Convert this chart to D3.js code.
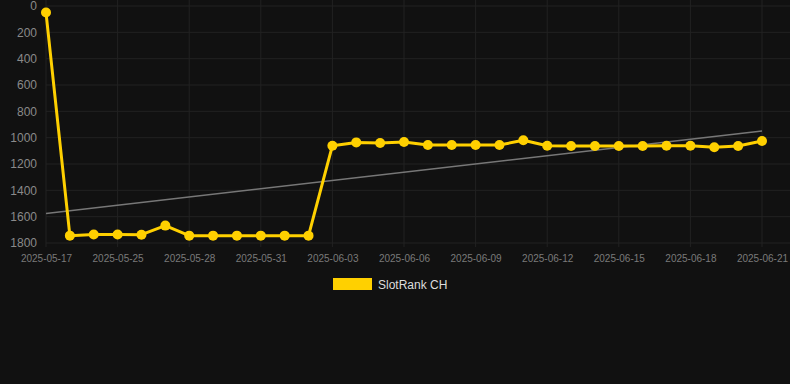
<!DOCTYPE html>
<html>
<head>
<meta charset="utf-8">
<script src="https://cdn.jsdelivr.net/npm/d3@7"></script>
<style>
  body { margin: 0; background: #111111; }
  svg { display: block; font-family: Arial, "Liberation Sans", sans-serif; }
</style>
</head>
<body>
<div id="chart"></div>
<script>
// categories (dates on the x axis)
const dates = [
    "2025-05-17", "2025-05-23", "2025-05-24", "2025-05-25", "2025-05-26", "2025-05-27",
    "2025-05-28", "2025-05-29", "2025-05-30", "2025-05-31", "2025-06-01", "2025-06-02",
    "2025-06-03", "2025-06-04", "2025-06-05", "2025-06-06", "2025-06-07", "2025-06-08",
    "2025-06-09", "2025-06-10", "2025-06-11", "2025-06-12", "2025-06-13", "2025-06-14",
    "2025-06-15", "2025-06-16", "2025-06-17", "2025-06-18", "2025-06-19", "2025-06-20",
    "2025-06-21"
];

// rank values
const ranks = [
    50, 1744, 1736, 1736, 1737, 1668,
    1744, 1744, 1744, 1744, 1744, 1744,
    1061, 1036, 1041, 1033, 1056, 1056,
    1056, 1056, 1020, 1061, 1063, 1063,
    1063, 1063, 1061, 1061, 1073, 1063,
    1025
];

const yTicks = [0, 200, 400, 600, 800, 1000, 1200, 1400, 1600, 1800];
const xTickLabels = ["2025-05-17", "2025-05-25", "2025-05-28", "2025-05-31", "2025-06-03",
    "2025-06-06", "2025-06-09", "2025-06-12", "2025-06-15", "2025-06-18", "2025-06-21"];
const seriesName = "SlotRank CH";

const width = 790, height = 384;
const margin = { top: 6, right: 28, bottom: 141, left: 46 };

const svg = d3.select("#chart").append("svg")
    .attr("width", width)
    .attr("height", height);

svg.append("rect").attr("width", width).attr("height", height).attr("fill", "#111111");

// x scale (category, points on ticks)
const x = d3.scalePoint()
    .domain(dates)
    .range([margin.left, width - margin.right]);

// y scale (inverted rank)
const y = d3.scaleLinear()
    .domain([0, 1800])
    .range([margin.top, height - margin.bottom]);

// grid lines
svg.append("g")
    .selectAll("line")
    .data(yTicks)
    .join("line")
    .attr("x1", margin.left)
    .attr("x2", width)
    .attr("y1", d => y(d))
    .attr("y2", d => y(d))
    .attr("stroke", "#222222")
    .attr("stroke-width", 1);

svg.append("g")
    .selectAll("line")
    .data(xTickLabels)
    .join("line")
    .attr("x1", d => x(d))
    .attr("x2", d => x(d))
    .attr("y1", 0)
    .attr("y2", y(1800) + 4)
    .attr("stroke", "#222222")
    .attr("stroke-width", 1);

// y axis labels
svg.append("g")
    .attr("transform", `translate(${margin.left - 9},0)`)
    .call(d3.axisLeft(y).tickValues(yTicks).tickFormat(d3.format("d")).tickSize(0).tickPadding(0))
    .call(g => g.select(".domain").remove())
    .call(g => g.selectAll("text")
        .attr("fill", "#8a8a8a")
        .style("font-size", "12px")
        .style("font-family", "Arial, 'Liberation Sans', sans-serif"));

// x axis labels
svg.append("g")
    .attr("transform", `translate(0,${y(1800)})`)
    .call(d3.axisBottom(x).tickValues(xTickLabels).tickSize(0).tickPadding(12))
    .call(g => g.select(".domain").remove())
    .call(g => g.selectAll("text")
        .attr("fill", "#7a7a7a")
        .style("font-size", "10px")
        .style("font-family", "Arial, 'Liberation Sans', sans-serif"));

// trend line (least squares over index)
const n = ranks.length;
const mx = d3.mean(ranks, (d, i) => i);
const my = d3.mean(ranks);
const slope = d3.sum(ranks, (d, i) => (i - mx) * (d - my)) / d3.sum(ranks, (d, i) => (i - mx) ** 2);
const intercept = my - slope * mx;

svg.append("line")
    .attr("x1", x(dates[0]))
    .attr("x2", x(dates[n - 1]))
    .attr("y1", y(intercept))
    .attr("y2", y(intercept + slope * (n - 1)))
    .attr("stroke", "#777")
    .attr("stroke-width", 1.5);

// series line
const line = d3.line()
    .x((d, i) => x(dates[i]))
    .y(d => y(d));

svg.append("path")
    .datum(ranks)
    .attr("fill", "none")
    .attr("stroke", "#FFD000")
    .attr("stroke-width", 3)
    .attr("stroke-linejoin", "round")
    .attr("d", line);

// dots
svg.append("g")
    .selectAll("circle")
    .data(ranks)
    .join("circle")
    .attr("cx", (d, i) => x(dates[i]))
    .attr("cy", d => y(d))
    .attr("r", 5)
    .attr("fill", "#FFD000");

// legend
const legend = svg.append("g").attr("transform", "translate(333,278)");
legend.append("rect")
    .attr("width", 39)
    .attr("height", 12)
    .attr("fill", "#FFD000");
legend.append("text")
    .attr("x", 45)
    .attr("y", 10.5)
    .attr("fill", "#dddddd")
    .style("font-size", "12px")
    .text(seriesName);
</script>
</body>
</html>
